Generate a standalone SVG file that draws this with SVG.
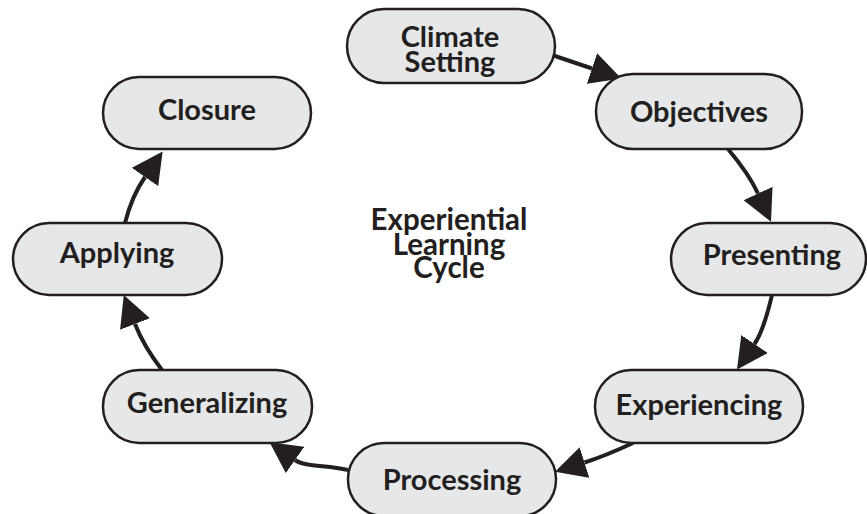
<svg xmlns="http://www.w3.org/2000/svg" width="867" height="514" viewBox="0 0 867 514">
  <style>
    .node rect { fill: #e6e7e8; stroke: #231f20; stroke-width: 2.5; }
    .node text, .title { font-family: Lato, "Open Sans", "Liberation Sans", sans-serif; font-weight: bold; fill: #231f20; text-anchor: middle; }
    .node text { font-size: 29px; }
    .title { font-size: 29.5px; }
    .conn path { fill: none; stroke: #231f20; stroke-width: 4; marker-end: url(#head); }
  </style>
  <defs>
    <marker id="head" markerUnits="userSpaceOnUse" markerWidth="31" markerHeight="32" viewBox="0 0 31 32" refX="0" refY="16" orient="auto">
      <path d="M0,0 L31,16 L0,32 Z" fill="#231f20"/>
    </marker>
  </defs>
  <rect width="867" height="514" fill="#ffffff"/>

  <g id="connectors" class="conn">
    <path d="M552,55 L592,68.5"/>
    <path d="M728,149 Q749,174 758,193.5"/>
    <path d="M772,295 C768,312 762,333 754.5,344"/>
    <path d="M633,443 Q605,456 584.5,462.5"/>
    <path d="M348,470 C325,465 305,467 295,460"/>
    <path d="M162,370 C152,357 142,342 135,324"/>
    <path d="M125,223 C129,207 136,190 145,177"/>
  </g>

  <g id="climate-setting" class="node">
    <rect x="347" y="9" width="208" height="74" rx="37"/>
    <text x="450" y="47">Climate</text>
    <text x="450" y="72">Setting</text>
  </g>
  <g id="objectives" class="node">
    <rect x="596" y="74" width="206" height="75" rx="37"/>
    <text x="699" y="122">Objectives</text>
  </g>
  <g id="presenting" class="node">
    <rect x="671" y="223" width="195" height="72" rx="36"/>
    <text x="772" y="265">Presenting</text>
  </g>
  <g id="experiencing" class="node">
    <rect x="595" y="370" width="208" height="73" rx="36"/>
    <text x="699" y="415">Experiencing</text>
  </g>
  <g id="processing" class="node">
    <rect x="348" y="443" width="208" height="73" rx="36"/>
    <text x="452" y="490">Processing</text>
  </g>
  <g id="generalizing" class="node">
    <rect x="103" y="370" width="209" height="73" rx="36"/>
    <text x="207" y="413">Generalizing</text>
  </g>
  <g id="applying" class="node">
    <rect x="13" y="223" width="209" height="72" rx="36"/>
    <text x="117" y="263">Applying</text>
  </g>
  <g id="closure" class="node">
    <rect x="103" y="77" width="208" height="72" rx="36"/>
    <text x="207" y="120">Closure</text>
  </g>

  <g id="title">
    <text class="title" x="449" y="230">Experiential</text>
    <text class="title" x="449" y="255">Learning</text>
    <text class="title" x="449" y="278">Cycle</text>
  </g>
</svg>
